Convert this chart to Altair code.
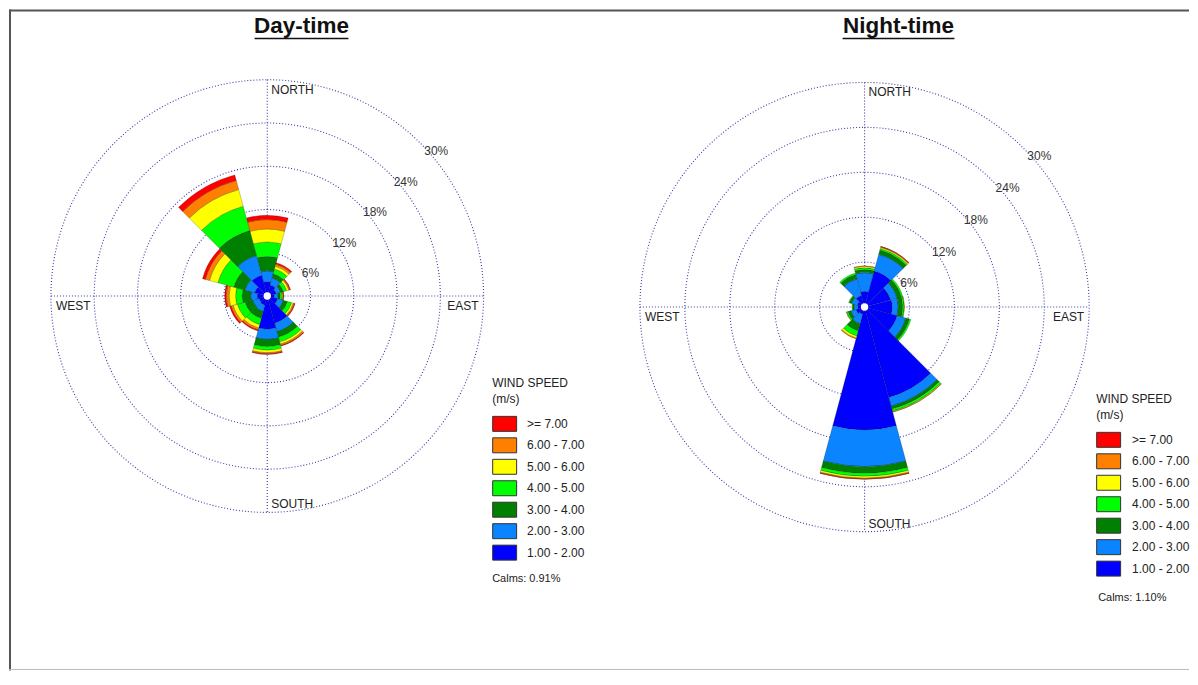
import math
import altair as alt
import pandas as pd

# ---------------- data ----------------
DIRECTIONS = [0, 30, 60, 90, 120, 150, 180, 210, 240, 270, 300, 330]
SPEED_CLASSES = ["1.00 - 2.00", "2.00 - 3.00", "3.00 - 4.00", "4.00 - 5.00",
                 "5.00 - 6.00", "6.00 - 7.00", ">= 7.00"]
SPEED_COLORS = ["#0000ff", "#0a84ff", "#008000", "#00ff00", "#ffff00", "#ff8000", "#ff0000"]
RING_VALUES = [6, 12, 18, 24, 30]
RING_LABELS = ["6%", "12%", "18%", "24%", "30%"]

# Day-time frequencies (%) per direction for each speed class
day_1_2 = [2.0, 1.6, 1.3, 1.0, 1.5, 3.9, 4.6, 1.3, 1.2, 1.4, 1.8, 3.0]
day_2_3 = [1.5, 1.0, 0.6, 0.5, 0.8, 1.2, 1.4, 0.9, 0.9, 0.9, 1.4, 2.8]
day_3_4 = [2.0, 0.6, 0.4, 0.3, 0.6, 0.8, 1.0, 1.0, 1.1, 1.2, 1.6, 3.6]
day_4_5 = [2.0, 0.7, 0.5, 0.3, 0.6, 0.7, 0.5, 0.9, 1.1, 0.9, 2.3, 3.5]
day_5_6 = [1.8, 0.4, 0.3, 0.1, 0.25, 0.3, 0.35, 0.5, 0.6, 0.9, 1.2, 2.4]
day_6_7 = [1.3, 0.3, 0.15, 0.05, 0.15, 0.2, 0.15, 0.25, 0.3, 0.4, 0.6, 1.3]
day_7p = [0.6, 0.2, 0.1, 0.05, 0.1, 0.1, 0.1, 0.15, 0.2, 0.2, 0.4, 0.8]
day_calms = "Calms: 0.91%"

# Night-time frequencies (%)
night_1_2 = [2.1, 5.0, 3.6, 3.7, 4.5, 12.5, 16.4, 1.0, 1.2, 0.9, 1.0, 1.6]
night_2_3 = [2.5, 2.3, 0.9, 0.8, 1.2, 1.2, 4.9, 1.3, 0.7, 0.5, 0.8, 2.3]
night_3_4 = [0.4, 0.6, 0.6, 0.6, 0.5, 0.4, 0.9, 1.0, 0.4, 0.2, 0.3, 0.6]
night_4_5 = [0.25, 0.2, 0.2, 0.2, 0.2, 0.3, 0.4, 0.7, 0.2, 0.1, 0.1, 0.2]
night_5_6 = [0.2, 0.15, 0.0, 0.05, 0.0, 0.1, 0.25, 0.3, 0.05, 0.0, 0.0, 0.0]
night_6_7 = [0.05, 0.1, 0.0, 0.0, 0.0, 0.05, 0.1, 0.1, 0.0, 0.0, 0.0, 0.0]
night_7p = [0.0, 0.05, 0.0, 0.0, 0.0, 0.0, 0.05, 0.0, 0.0, 0.0, 0.0, 0.0]
night_calms = "Calms: 1.10%"

FONT = "Liberation Sans, Arial, sans-serif"
TITLE_FONT = "Liberation Sans Narrow, Arial Narrow, Liberation Sans, sans-serif"
GRID = "#3c3ca8"
W, H = 1182, 662


def rose_table(series):
    rows = []
    for i, d in enumerate(DIRECTIONS):
        acc = 0.0
        for k, cls in enumerate(SPEED_CLASSES):
            v = series[k][i]
            if v > 0:
                rows.append({"dir": d, "t0": d - 15, "t1": d + 15,
                             "r0": acc, "r1": acc + v, "speed": cls})
            acc += v
    return pd.DataFrame(rows)


rings_df = pd.DataFrame({"value": RING_VALUES, "label": RING_LABELS,
                         "t0": [0] * 5, "t1": [360] * 5, "ang": [45] * 5})
one = pd.DataFrame({"a": [0]})


def rose(title, series, calm, cx, cy, R, lx, ly, loff, calm_xy, title_xy, ul):
    tsc = alt.Scale(domain=[0, 360], range=[0, 2 * math.pi])
    rsc = alt.Scale(type="linear", domain=[0, 30], range=[0, R])
    pos = dict(x=alt.value(cx), y=alt.value(cy))
    df = rose_table(series)

    rings = alt.Chart(rings_df).mark_arc(
        fillOpacity=0, stroke=GRID, strokeWidth=1.1, strokeDash=[1, 2]
    ).encode(
        theta=alt.Theta("t0:Q", scale=tsc, stack=None), theta2="t1:Q",
        radius=alt.Radius("value:Q", scale=rsc, stack=None), **pos)

    hline = alt.Chart(one).mark_rule(color=GRID, strokeWidth=1.1, strokeDash=[1, 2]).encode(
        x=alt.value(cx - R), x2=alt.value(cx + R), y=alt.value(cy))
    vline = alt.Chart(one).mark_rule(color=GRID, strokeWidth=1.1, strokeDash=[1, 2]).encode(
        y=alt.value(cy - R), y2=alt.value(cy + R), x=alt.value(cx))

    petals = alt.Chart(df).mark_arc(stroke="#000", strokeWidth=0.35, strokeOpacity=0.6).encode(
        theta=alt.Theta("t0:Q", scale=tsc, stack=None), theta2="t1:Q",
        radius=alt.Radius("r1:Q", scale=rsc, stack=None), radius2="r0:Q",
        color=alt.Color("speed:N",
                        scale=alt.Scale(domain=SPEED_CLASSES[::-1], range=SPEED_COLORS[::-1]),
                        legend=alt.Legend(
                            orient="none", legendX=lx, legendY=ly,
                            title=["WIND SPEED", "(m/s)"],
                            titleFont=FONT, titleFontSize=12, titleFontWeight="normal",
                            titleColor="#222", titleLineHeight=16, titlePadding=10,
                            labelFont=FONT, labelFontSize=12, labelColor="#222",
                            symbolType="M-1,-1H2.2V1H-1Z", symbolSize=225,
                            symbolStrokeColor="#333", symbolStrokeWidth=1,
                            symbolOpacity=1, labelOffset=loff, rowPadding=1.5,
                            padding=0, offset=0)),
        tooltip=["dir:Q", "speed:N", "r0:Q", "r1:Q"],
        **pos)

    hole = alt.Chart(one).mark_point(shape="circle", filled=True, color="white",
                                     opacity=1, size=55).encode(**pos)

    pct = alt.Chart(rings_df).mark_text(
        align="left", baseline="top", dx=4, dy=3, font=FONT, fontSize=12, color="#333"
    ).encode(theta=alt.Theta("ang:Q", scale=tsc, stack=None),
             radius=alt.Radius("value:Q", scale=rsc, stack=None),
             text="label:N", **pos)

    def compass(name, ang, align, baseline, dx, dy):
        d = pd.DataFrame({"name": [name], "ang": [ang], "r": [30]})
        return alt.Chart(d).mark_text(
            align=align, baseline=baseline, dx=dx, dy=dy, font=FONT, fontSize=12, color="#222"
        ).encode(theta=alt.Theta("ang:Q", scale=tsc, stack=None),
                 radius=alt.Radius("r:Q", scale=rsc, stack=None),
                 text="name:N", **pos)

    north = compass("NORTH", 0, "left", "top", 4, 5)
    south = compass("SOUTH", 180, "left", "alphabetic", 4, -4)
    west = compass("WEST", 270, "left", "top", 5, 5)
    east = compass("EAST", 90, "right", "top", -5, 5)

    calm_t = alt.Chart(one).mark_text(
        align="left", baseline="middle", font=FONT, fontSize=11, color="#222", text=calm
    ).encode(x=alt.value(calm_xy[0]), y=alt.value(calm_xy[1]))

    title_t = alt.Chart(one).mark_text(
        align="center", baseline="middle", font=TITLE_FONT, fontSize=22.5,
        fontWeight="bold", color="#111", text=title
    ).encode(x=alt.value(title_xy[0]), y=alt.value(title_xy[1]))
    underline = alt.Chart(one).mark_rule(color="#111", strokeWidth=1.6).encode(
        x=alt.value(ul[0]), x2=alt.value(ul[1]), y=alt.value(ul[2]))

    return alt.layer(rings, hline, vline, petals, hole, pct,
                     north, south, west, east, calm_t, title_t, underline)


day = rose("Day-time",
           [day_1_2, day_2_3, day_3_4, day_4_5, day_5_6, day_6_7, day_7p],
           day_calms, 258.7, 287, 216.7, 484, 369, 19, (484, 570), (293, 16), (246, 340, 29))
night = rose("Night-time",
             [night_1_2, night_2_3, night_3_4, night_4_5, night_5_6, night_6_7, night_7p],
             night_calms, 857, 298, 225, 1089, 385, 20, (1091, 589), (891, 16), (835, 947, 29))

frame_top = alt.Chart(one).mark_rule(color="#555", strokeWidth=2).encode(
    x=alt.value(0), x2=alt.value(W), y=alt.value(1))
frame_left = alt.Chart(one).mark_rule(color="#555", strokeWidth=2).encode(
    x=alt.value(1), y=alt.value(0), y2=alt.value(H))
frame_bottom = alt.Chart(one).mark_rule(color="#bbb", strokeWidth=1).encode(
    x=alt.value(0), x2=alt.value(W), y=alt.value(H - 1))

chart = alt.layer(frame_top, frame_left, frame_bottom, day, night).resolve_scale(
    theta="independent", radius="independent", color="independent"
).properties(width=W, height=H, padding=0, background="white").configure_view(stroke=None)

chart.save("out.html", embed_options={"renderer": "svg", "actions": False})
